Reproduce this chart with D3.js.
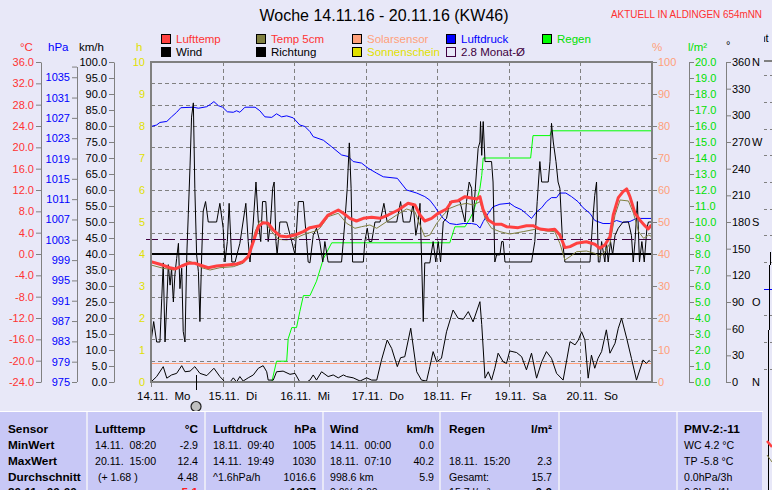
<!DOCTYPE html>
<html><head><meta charset="utf-8">
<script src="https://cdn.jsdelivr.net/npm/d3@7/dist/d3.min.js"></script>
<style>
html,body{margin:0;padding:0;background:#E8E8F8;overflow:hidden}
svg{display:block}
text{font-family:"Liberation Sans",Arial,sans-serif}
</style></head><body>
<svg id="chart" width="772" height="490"></svg>
<script>
// ---------------- DATA ----------------
const titleText = "Woche 14.11.16 - 20.11.16 (KW46)";
const stationText = "AKTUELL IN ALDINGEN 654mNN";
const days = ["14.11.\u00a0\u00a0Mo","15.11.\u00a0\u00a0Di","16.11.\u00a0\u00a0Mi","17.11.\u00a0\u00a0Do","18.11.\u00a0\u00a0Fr","19.11.\u00a0\u00a0Sa","20.11.\u00a0\u00a0So"];

const tempTicks = [-24,-20,-16,-12,-8,-4,0,4,8,12,16,20,24,28,32,36];
const hpaTicks = [975,979,983,987,991,995,999,1003,1007,1011,1015,1019,1023,1027,1031,1035];
const kmhTicks = [0,5,10,15,20,25,30,35,40,45,50,55,60,65,70,75,80,85,90,95,100];
const sunTicks = [0,1,2,3,4,5,6,7,8,9,10];
const pctTicks = [0,10,20,30,40,50,60,70,80,90,100];
const rainTicks = [0,1,2,3,4,5,6,7,8,9,10,11,12,13,14,15,16,17,18,19,20];
const dirTicks = [0,30,60,90,120,150,180,210,240,270,300,330,360];
const dirLetters = {0:"N",90:"O",180:"S",270:"W",360:"N"};

const monthAvg = 2.8;      // °C
const solarLevel = 5.8;    // %
const markerHour = 15.1;

// [hour since 14.11. 00:00, value]
const luftdruck = [[0,1025.3],[1.9,1025.6],[3.0,1026.1],[5.3,1026.3],[6.9,1027.2],[8.6,1028.1],[10.0,1029.0],[14.2,1029.1],[15.9,1028.9],[18.7,1029.2],
[20.0,1029.7],[21.1,1030.2],[22.6,1029.4],[24.0,1029.1],[25.6,1028.2],[27.6,1028.1],[28.7,1028.4],[29.8,1028.1],[31.5,1029.1],[34.9,1029.1],
[36.5,1028.4],[38.2,1027.2],[40.5,1027.1],[42.1,1027.8],[43.8,1027.2],[45.5,1027.4],[47.7,1027.0],[49.9,1025.6],[51.6,1025.3],[53.3,1024.3],
[54.4,1023.3],[57.8,1022.6],[60.6,1021.3],[63.9,1019.7],[66.1,1019.4],[67.8,1018.4],[70.6,1018.1],[72.8,1017.1],[75.7,1016.1],[77.9,1015.4],
[82.6,1015.1],[85.7,1012.8],[89.1,1012.2],[91.8,1011.5],[93.5,1010.8],[95.2,1009.5],[96.3,1008.5],[98.0,1007.2],[100.2,1006.2],[102.5,1006.0],
[104.7,1006.2],[107.5,1006.2],[109.2,1006.0],[110.3,1005.3],[111.4,1006.6],[113.1,1008.2],[114.7,1009.5],[117.0,1010.0],[120.3,1010.2],[122.0,1009.5],
[124.3,1008.9],[125.9,1008.1],[127.6,1007.2],[129.3,1008.5],[131.0,1009.3],[132.6,1010.5],[134.3,1011.3],[136.0,1011.3],[137.1,1012.2],[139.1,1012.2],
[141.0,1011.5],[143.2,1010.5],[144.9,1009.3],[147.2,1008.2],[148.8,1006.8],[151.6,1006.2],[153.9,1006.2],[156.1,1006.8],[158.3,1006.4],[160.6,1006.6],
[162.8,1007.2],[168,1007.2]];

const lufttemp = [[0,-1.44],[3.0,-1.93],[6.4,-2.57],[8.2,-2.8],[10.3,-2.25],[12.5,-1.74],[14.7,-1.74],[16.4,-2.06],[19.2,-2.57],[22.0,-2.25],
[25.4,-2.06],[28.7,-1.87],[30.9,-1.44],[32.6,-0.5],[34.3,2.3],[36.0,5.12],[37.6,5.87],[39.3,5.75],[41.0,4.5],[43.2,3.38],
[45.5,3.25],[48.3,3.56],[51.1,4.19],[53.3,4.94],[56.6,5.3],[59.4,7.31],[62.8,8.25],[64.5,7.63],[66.7,6.69],[68.9,6.19],
[71.2,6.69],[74.0,6.88],[76.8,6.69],[79.5,7.31],[82.9,8.25],[86.2,9.5],[88.5,9.19],[90.2,7.31],[91.8,6.19],[94.1,6.69],
[96.3,7.63],[99.1,8.44],[100.8,9.81],[103.0,10.0],[105.3,10.75],[106.9,10.56],[109.2,10.31],[110.3,10.75],[111.4,8.25],[113.1,6.38],
[115.3,5.57],[117.6,5.57],[119.2,5.12],[123.1,4.94],[125.9,5.31],[128.1,5.31],[130.4,4.69],[133.2,4.5],[135.4,4.62],[137.1,3.56],
[138.8,1.19],[140.5,1.38],[142.7,2.0],[146.0,2.3],[148.8,1.82],[150.5,1.07],[152.2,1.69],[153.9,3.25],[155.0,7.31],[156.7,10.56],
[158.3,11.69],[159.5,12.2],[160.6,10.75],[162.3,7.63],[163.9,6.38],[165.6,5.31],[166.7,4.69],[167.8,5.44]];

const temp5cm = [[0,-2.06],[4.1,-2.68],[7.5,-3.0],[10.3,-2.38],[12.5,-1.31],[14.7,-1.74],[17.0,-2.57],[19.8,-3.0],[23.1,-2.57],[27.6,-2.38],
[30.9,-1.74],[33.2,0.43],[34.9,4.19],[36.5,6.24],[38.5,5.75],[40.5,4.19],[42.7,2.75],[45.5,2.63],[48.8,3.06],[52.2,3.88],
[53.3,4.0],[55.5,4.37],[56.6,4.82],[59.4,7.0],[62.8,7.63],[65.6,5.75],[68.4,4.82],[70.6,5.12],[73.4,5.44],[75.7,4.82],
[79.0,6.06],[82.4,7.31],[85.7,8.44],[88.5,7.93],[90.2,5.44],[91.8,3.25],[93.5,3.56],[95.8,5.75],[98.0,7.31],[100.2,8.57],
[103.0,9.19],[105.8,9.5],[108.0,9.19],[110.3,9.81],[112.0,6.69],[114.2,4.82],[117.0,4.19],[120.3,3.75],[124.8,4.19],[129.3,4.69],
[132.6,4.31],[135.4,4.19],[137.1,2.0],[138.8,-1.12],[140.5,-0.5],[142.7,0.43],[146.0,0.56],[148.8,0.13],[150.5,-0.5],[152.2,0.43],
[153.9,2.0],[155.6,7.31],[157.3,10.13],[160.1,9.94],[161.8,7.63],[163.5,4.19],[165.2,2.94],[166.9,3.56],[168.0,3.25]];

const wind = [[0,0],[1.9,1.7],[4.1,4.8],[5.3,1.2],[6.9,2.2],[8.6,2.7],[10.3,5.1],[11.4,3.2],[13.1,3.4],[14.7,4.8],
[16.4,2.7],[18.7,2.0],[21.1,4.3],[23.1,1.7],[24.8,0],[26.5,0],[27.6,1.3],[28.7,0],[29.8,1.7],[30.9,0.3],
[32.6,1.3],[34.3,2.2],[36.0,4.3],[37.6,5.1],[38.8,3.2],[39.3,0.6],[41.0,0.6],[42.1,3.2],[44.3,3.4],[46.6,2.4],
[48.3,2.7],[49.9,0],[52.2,0],[53.3,0.6],[54.4,2.2],[55.5,0.6],[57.2,3.2],[59.4,1.7],[61.1,2.2],[62.8,1.3],
[64.5,2.2],[65.6,1.7],[67.8,1.3],[70.1,0.3],[72.3,1.3],[74.0,0.6],[75.7,0.6],[77.3,6.9],[79.2,13.1],[80.7,10.5],
[82.6,4.8],[83.7,7.6],[85.1,7.9],[87.1,16.8],[89.1,3.2],[90.7,0.6],[92.4,0.3],[93.5,4.8],[94.6,9.5],[95.8,6.3],
[97.4,7.4],[99.1,15.7],[101.3,22.5],[103.0,19.9],[104.7,19.6],[106.4,22.0],[108.0,18.8],[110.3,25.1],[110.9,18.0],[112.0,1.2],
[113.1,3.2],[114.2,0.6],[115.3,4.3],[116.4,9.0],[118.1,6.3],[119.2,5.8],[120.3,9.7],[122.6,9.2],[124.3,7.9],[125.9,3.8],
[127.6,9.0],[129.3,1.2],[131.0,6.3],[132.6,9.5],[134.3,7.4],[136.0,2.7],[138.2,0.6],[140.5,12.6],[142.2,11.6],[143.3,13.1],
[144.4,15.7],[145.5,13.1],[146.6,1.2],[147.7,8.4],[148.8,4.3],[149.9,7.4],[151.1,9.5],[152.7,16.3],[153.9,9.0],[155.6,12.1],
[156.7,16.8],[157.8,19.9],[159.5,13.7],[161.1,7.4],[162.8,0.6],[165.0,6.9],[166.1,5.8],[167.2,6.9]];

const richtung = [[0,45],[0.9,68],[1.9,45],[3.0,45],[3.6,94],[4.1,134],[4.7,45],[5.3,90],[5.8,132],[6.4,109],
[6.9,128],[7.5,90],[8.0,120],[8.6,139],[9.2,156],[9.7,105],[10.3,128],[10.8,57],[11.4,45],[12.0,143],
[12.5,188],[13.1,244],[13.6,298],[14.2,314],[14.7,218],[15.3,143],[15.9,124],[16.4,68],[17.0,143],[17.5,192],
[18.3,203],[19.2,180],[22.0,180],[23.1,201],[24.2,173],[24.8,135],[25.6,158],[26.2,201],[27.1,135],[28.2,135],
[29.8,156],[31.8,201],[32.6,158],[33.2,135],[34.3,180],[35.2,225],[36.0,180],[36.8,158],[37.4,203],[38.5,203],
[39.3,158],[40.1,180],[40.8,218],[41.3,225],[41.9,158],[42.3,143],[43.2,180],[45.5,180],[47.2,158],[48.3,143],
[49.4,203],[51.1,203],[52.2,158],[52.7,135],[53.3,134],[54.4,165],[55.5,173],[56.6,158],[57.6,135],[58.3,158],
[59.4,135],[63.9,135],[65.0,180],[65.8,218],[66.5,269],[67.1,218],[67.6,135],[71.2,135],[71.7,158],[72.5,173],
[73.2,158],[74.0,158],[75.1,180],[76.8,180],[78.1,201],[79.2,180],[82.4,180],[83.7,203],[84.6,180],[86.8,180],
[87.9,201],[88.8,165],[89.6,180],[90.2,201],[90.7,143],[91.3,68],[91.8,134],[93.5,134],[94.6,158],[95.5,135],
[96.3,158],[97.1,135],[98.0,180],[99.1,184],[100.2,203],[103.6,203],[105.3,180],[105.8,203],[106.7,225],[107.5,218],
[108.0,180],[108.9,225],[109.7,263],[110.3,270],[110.5,293],[110.9,255],[111.4,293],[112.0,248],[114.2,248],[114.7,225],
[115.3,135],[115.9,143],[117.0,143],[117.6,158],[118.1,158],[118.7,135],[127.6,135],[128.7,158],[129.5,203],[130.4,248],
[131.0,225],[133.2,225],[133.8,248],[134.3,291],[134.9,270],[135.8,248],[136.5,225],[137.1,218],[138.0,158],[138.8,135],
[147.2,135],[148.1,180],[148.8,210],[149.4,225],[150.0,135],[150.5,135],[151.1,158],[152.2,135],[152.7,158],[153.3,135],
[154.1,158],[154.8,143],[155.6,165],[156.7,173],[158.3,180],[160.1,180],[161.1,165],[161.7,135],[162.3,158],[163.1,203],
[163.8,135],[164.6,158],[165.4,135],[166.3,173],[166.8,180],[168.0,180]];

const regen = [[0,0],[40.5,0],[42.1,1.3],[45.5,1.3],[46.0,2.7],[47.2,3.4],[48.8,3.4],[49.9,4.4],[51.1,5.4],[53.3,5.4],
[55.5,6.3],[57.8,7.7],[60.6,8.7],[100.2,8.7],[101.9,9.7],[105.3,9.7],[106.9,10.2],[108.0,10.6],[109.2,11.3],[110.3,12.1],
[110.9,12.9],[111.4,14.0],[127.3,14.0],[128.1,15.4],[133.8,15.4],[134.3,15.7],[168,15.7]];

const legendRow1 = ["Lufttemp","Temp 5cm","Solarsensor","Luftdruck","Regen"];
const legendRow2 = ["Wind","Richtung","Sonnenschein","2.8 Monat-Ø"];

const tableHead = [["Sensor",""],["Lufttemp","°C"],["Luftdruck","hPa"],["Wind","km/h"],["Regen","l/m²"],["",""],["PMV-2:-11",""]];
const tableRowLabels = ["MinWert","MaxWert","Durchschnitt","20.11.\u00a0\u00a000:00"];
const colLufttemp = [["14.11.\u00a0\u00a008:20","-2.9"],["20.11.\u00a0\u00a015:00","12.4"],["\u00a0(+ 1.68 )","4.48"],["","5.1"]];
const colLuftdruck = [["18.11.\u00a0\u00a009:40","1005"],["14.11.\u00a0\u00a019:49","1030"],["^1.6hPa/h","1016.6"],["","1007"]];
const colWind = [["14.11.\u00a0\u00a000:00","0.0"],["18.11.\u00a0\u00a007:10","40.2"],["998.6 km","5.9"],["0.0% 0.00",""]];
const colRegen = [["",""],["18.11.\u00a0\u00a015:20","2.3"],["Gesamt:","15.7"],["15.7 l/m²","0.0"]];
const colPmv = ["WC 4.2 °C","TP -5.8 °C","0.0hPa/3h","0.0hPa/1h"];

// ---------------- STYLE ----------------
const C = {
  bg:"#E8E8F8", table:"#C8C8F6", grid:"#808080", axis:"#808080",
  temp:"#FF4040", temp5:"#808040", tempText:"#FF3333", solar:"#FFA07A", press:"#0000FF",
  rain:"#00FF00", rainText:"#00E000", sun:"#E0E000", monat:"#400040", black:"#000000"
};
const FONT = '"Liberation Sans", Arial, sans-serif';

const svg = d3.select("#chart");
const W = 772, H = 490;
const L = 151, R = 652, T = 62, B = 382;

const x = d3.scaleLinear().domain([0,168]).range([L,R]);
const yT = d3.scaleLinear().domain([-24,36]).range([B,T]);
const yP = d3.scaleLinear().domain([975,1038]).range([B,T]);
const yW = d3.scaleLinear().domain([0,100]).range([B,T]);
const yS = d3.scaleLinear().domain([0,10]).range([B,T]);
const yPct = d3.scaleLinear().domain([0,100]).range([B,T]);
const yR = d3.scaleLinear().domain([0,20]).range([B,T]);
const yD = d3.scaleLinear().domain([0,360]).range([B,T]);
const crisp = v => Math.round(v) + 0.5;

svg.append("rect").attr("width",W).attr("height",H).attr("fill",C.bg);

// title
svg.append("text").attr("x",384).attr("y",21).attr("text-anchor","middle")
  .attr("font-size",16).attr("fill","#000").text(titleText);
svg.append("text").attr("x",611).attr("y",18).attr("font-size",10.5)
  .attr("textLength",151).attr("lengthAdjust","spacingAndGlyphs")
  .attr("fill","#FF3030").text(stationText);

// legend
const legStyle = {
  "Lufttemp":{sq:C.temp, tx:C.tempText}, "Temp 5cm":{sq:C.temp5, tx:C.tempText},
  "Solarsensor":{sq:C.solar, tx:C.solar}, "Luftdruck":{sq:C.press, tx:C.press},
  "Regen":{sq:C.rain, tx:C.rainText}, "Wind":{sq:"#000", tx:"#000"}, "Richtung":{sq:"#000", tx:"#000"},
  "Sonnenschein":{sq:C.sun, tx:C.sun}, "2.8 Monat-Ø":{sq:"none", tx:C.monat}
};
const legCols = [161, 256, 352, 446, 542];
[legendRow1, legendRow2].forEach((row, ri) => {
  const top = ri === 0 ? 34 : 47;
  row.forEach((name, ci) => {
    const g = svg.append("g");
    g.append("rect").attr("x",legCols[ci]+0.5).attr("y",top+0.5).attr("width",9).attr("height",9)
      .attr("fill",legStyle[name].sq).attr("stroke", name==="2.8 Monat-Ø" ? C.monat : "#000");
    g.append("text").attr("x",legCols[ci]+15).attr("y",top+9).attr("font-size",11.5)
      .attr("fill",legStyle[name].tx).text(name);
  });
});

// axis unit headers
const heads = [["°C",20,C.tempText],["hPa",48,C.press],["km/h",79,"#000"],["h",136,C.sun],
               ["%",652,C.solar],["l/m²",688,C.rainText]];
heads.forEach(h => svg.append("text").attr("x",h[1]).attr("y",51).attr("font-size",11.5)
  .attr("fill",h[2]).text(h[0]));
svg.append("text").attr("x",726).attr("y",49).attr("font-size",11).attr("fill","#000").text("°");

// grid
const grid = svg.append("g").attr("stroke",C.grid).attr("stroke-width",1).attr("stroke-dasharray","4,3");
tempTicks.filter(t => t > -24 && t < 36).forEach(t =>
  grid.append("line").attr("x1",L).attr("x2",R).attr("y1",crisp(yT(t))).attr("y2",crisp(yT(t))));
d3.range(1,7).forEach(d =>
  grid.append("line").attr("x1",crisp(x(d*24))).attr("x2",crisp(x(d*24))).attr("y1",T).attr("y2",B));

// axes
function styleAxis(g, color){
  g.attr("font-size",11).attr("font-family",FONT);
  g.selectAll(".domain").attr("stroke",C.axis);
  g.selectAll(".tick line").attr("stroke",C.axis);
  g.selectAll(".tick text").attr("fill",color);
}
const aT = svg.append("g").attr("transform","translate(41,0)")
  .call(d3.axisLeft(yT).tickValues(tempTicks).tickSize(5).tickSizeOuter(0).tickPadding(2).tickFormat(d => d.toFixed(1)));
styleAxis(aT, C.tempText);

const hpaTop = 1037.1;
const aP = svg.append("g").attr("transform","translate(77,0)")
  .call(d3.axisLeft(yP).tickValues(hpaTicks.concat([hpaTop])).tickSize(5).tickSizeOuter(0).tickPadding(2)
    .tickFormat(d => hpaTicks.includes(d) ? d : ""));
aP.select(".domain").remove();
aP.append("line").attr("x1",0.5).attr("x2",0.5).attr("y1",yP(975)).attr("y2",crisp(yP(hpaTop))-0.5);
styleAxis(aP, C.press);
aP.selectAll("line").attr("stroke",C.axis);

const aW = svg.append("g").attr("transform","translate(114,0)")
  .call(d3.axisLeft(yW).tickValues(kmhTicks).tickSize(5).tickSizeOuter(0).tickPadding(2).tickFormat(d => d.toFixed(1)));
styleAxis(aW, "#000");

const aS = svg.append("g").attr("transform","translate(151,0)")
  .call(d3.axisLeft(yS).tickValues(sunTicks).tickSize(0).tickSizeOuter(0).tickPadding(6));
aS.select(".domain").remove();
styleAxis(aS, C.sun);

const aPct = svg.append("g").attr("transform","translate(652,0)")
  .call(d3.axisRight(yPct).tickValues(pctTicks).tickSize(5).tickSizeOuter(0).tickPadding(1));
aPct.select(".domain").remove();
styleAxis(aPct, C.solar);

const aR = svg.append("g").attr("transform","translate(689,0)")
  .call(d3.axisRight(yR).tickValues(rainTicks).tickSize(5).tickSizeOuter(0).tickPadding(1).tickFormat(d => d.toFixed(1)));
styleAxis(aR, C.rainText);

const aD = svg.append("g").attr("transform","translate(726,0)")
  .call(d3.axisRight(yD).tickValues(dirTicks).tickSize(5).tickSizeOuter(0).tickPadding(1));
styleAxis(aD, "#000");
aD.selectAll(".tick").filter(d => dirLetters[d]).append("text")
  .attr("x",26).attr("dy","0.32em").attr("fill","#000").attr("text-anchor","start").text(d => dirLetters[d]);

// clip for plot
svg.append("defs").append("clipPath").attr("id","plotclip").append("rect")
  .attr("x",L).attr("y",T).attr("width",R-L).attr("height",B-T);
const plot = svg.append("g").attr("clip-path","url(#plotclip)");

// reference lines
plot.append("line").attr("x1",L).attr("x2",R).attr("y1",crisp(yPct(solarLevel))).attr("y2",crisp(yPct(solarLevel)))
  .attr("stroke",C.solar).attr("stroke-width",1);
svg.append("line").attr("x1",146).attr("x2",R).attr("y1",crisp(yT(monthAvg))).attr("y2",crisp(yT(monthAvg)))
  .attr("stroke",C.monat).attr("stroke-width",1).attr("stroke-dasharray","12,5");
plot.append("line").attr("x1",L).attr("x2",R).attr("y1",yT(0)).attr("y2",yT(0))
  .attr("stroke","#000").attr("stroke-width",2);

const line = (ys) => d3.line().x(d => x(d[0])).y(d => ys(d[1]));
plot.append("path").datum(regen).attr("d",line(yR)).attr("fill","none").attr("stroke",C.rain).attr("stroke-width",1);
plot.append("path").datum(luftdruck).attr("d",line(yP)).attr("fill","none").attr("stroke",C.press).attr("stroke-width",1);
plot.append("path").datum(richtung).attr("d",line(yD)).attr("fill","none").attr("stroke","#000").attr("stroke-width",1);
plot.append("path").datum(wind).attr("d",line(yW)).attr("fill","none").attr("stroke","#000").attr("stroke-width",1);
plot.append("path").datum(temp5cm).attr("d",line(yT)).attr("fill","none").attr("stroke",C.temp5).attr("stroke-width",1);
plot.append("path").datum(lufttemp).attr("d",line(yT)).attr("fill","none").attr("stroke",C.temp)
  .attr("stroke-width",3).attr("stroke-linejoin","round");

// plot border
svg.append("rect").attr("x",L).attr("y",T).attr("width",R-L).attr("height",B-T)
  .attr("fill","none").attr("stroke",C.axis).attr("stroke-width",2);

// x ticks and day labels
d3.range(0,7).forEach(d => {
  svg.append("line").attr("x1",crisp(x(d*24))).attr("x2",crisp(x(d*24))).attr("y1",B).attr("y2",B+5)
    .attr("stroke",C.axis);
});
days.forEach((lab,i) => svg.append("text").attr("x",x(i*24)-14).attr("y",400)
  .attr("font-size",11.5).attr("fill","#000").text(lab));

// current marker
svg.append("line").attr("x1",crisp(x(markerHour))).attr("x2",crisp(x(markerHour))).attr("y1",375).attr("y2",390)
  .attr("stroke","#000");
svg.append("circle").attr("cx",x(markerHour)).attr("cy",406.5).attr("r",5)
  .attr("fill","#C0C0C0").attr("stroke","#202020").attr("stroke-width",1.2);

// right-edge fragment of neighbouring panel
const frag = svg.append("g");
svg.select("defs").append("clipPath").attr("id","fragclip").append("rect").attr("x",764).attr("y",0).attr("width",8).attr("height",H);
frag.attr("clip-path","url(#fragclip)");
frag.append("text").attr("x",757).attr("y",42).attr("font-size",11).attr("fill","#000").text("int");
frag.append("line").attr("x1",760).attr("x2",772).attr("y1",61).attr("y2",61).attr("stroke",C.axis).attr("stroke-width",2);
[75,102,129,155,182,209,235,262,289,315,342,369].forEach(yy =>
  frag.append("line").attr("x1",764).attr("x2",772).attr("y1",yy+0.5).attr("y2",yy+0.5)
    .attr("stroke",C.grid).attr("stroke-dasharray","3,3"));
frag.append("line").attr("x1",764).attr("x2",772).attr("y1",289.5).attr("y2",289.5).attr("stroke",C.press);
frag.append("path").attr("d","M770.5,252V265M769.5,265V330M768.5,330V490").attr("stroke","#000").attr("fill","none");
frag.append("path").attr("d","M767,441L772,447").attr("stroke",C.temp).attr("stroke-width",2.5);
frag.append("path").attr("d","M767,455L772,462").attr("stroke",C.temp5).attr("stroke-width",1);

// table
const tTop = 412;
const colEdges = [0,87,205,323,440,559,677,763];
svg.append("line").attr("x1",0).attr("x2",763).attr("y1",tTop-0.5).attr("y2",tTop-0.5).attr("stroke","#FFFFFF");
for (let i=0;i<colEdges.length-1;i++){
  svg.append("rect").attr("x",colEdges[i]+(i?1:0)).attr("y",tTop).attr("width",colEdges[i+1]-colEdges[i]-(i?2:1))
    .attr("height",H-tTop).attr("fill",C.table);
}
const rowY = [433,449,464.5,480.5,496];
const tg = svg.append("g").attr("font-family",FONT).style("white-space","pre");
const leftX = [8,95,213,330,449,566,684];
const rightX = [0,198,316,434,552,0,0];
tableHead.forEach((h,i) => {
  if (h[0]) tg.append("text").attr("x",leftX[i]).attr("y",rowY[0]).attr("font-weight","bold").attr("font-size",11.8).text(h[0]);
  if (h[1]) tg.append("text").attr("x",rightX[i]).attr("y",rowY[0]).attr("text-anchor","end").attr("font-weight","bold").attr("font-size",11.8).text(h[1]);
});
tableRowLabels.forEach((r,i) => tg.append("text").attr("x",leftX[0]).attr("y",rowY[i+1])
  .attr("font-weight","bold").attr("font-size",11.8).text(r));
function fillCol(data, ci, special){
  data.forEach((r,i) => {
    if (r[0]) tg.append("text").attr("x",leftX[ci]).attr("y",rowY[i+1]).attr("font-size",10.6).text(r[0]);
    if (r[1]) {
      const t = tg.append("text").attr("x",rightX[ci]).attr("y",rowY[i+1]).attr("text-anchor","end").attr("font-size",10.6).text(r[1]);
      if (special && i===3) t.attr("fill","#FF2020").attr("font-weight","bold").attr("font-size",11.8);
      else if (i===3) t.attr("font-weight","bold").attr("font-size",11.8);
    }
  });
}
fillCol(colLufttemp,1,true);
fillCol(colLuftdruck,2,false);
fillCol(colWind,3,false);
fillCol(colRegen,4,false);
colPmv.forEach((s,i) => tg.append("text").attr("x",leftX[6]).attr("y",rowY[i+1]).attr("font-size",10.6).text(s));
</script>
</body></html>
